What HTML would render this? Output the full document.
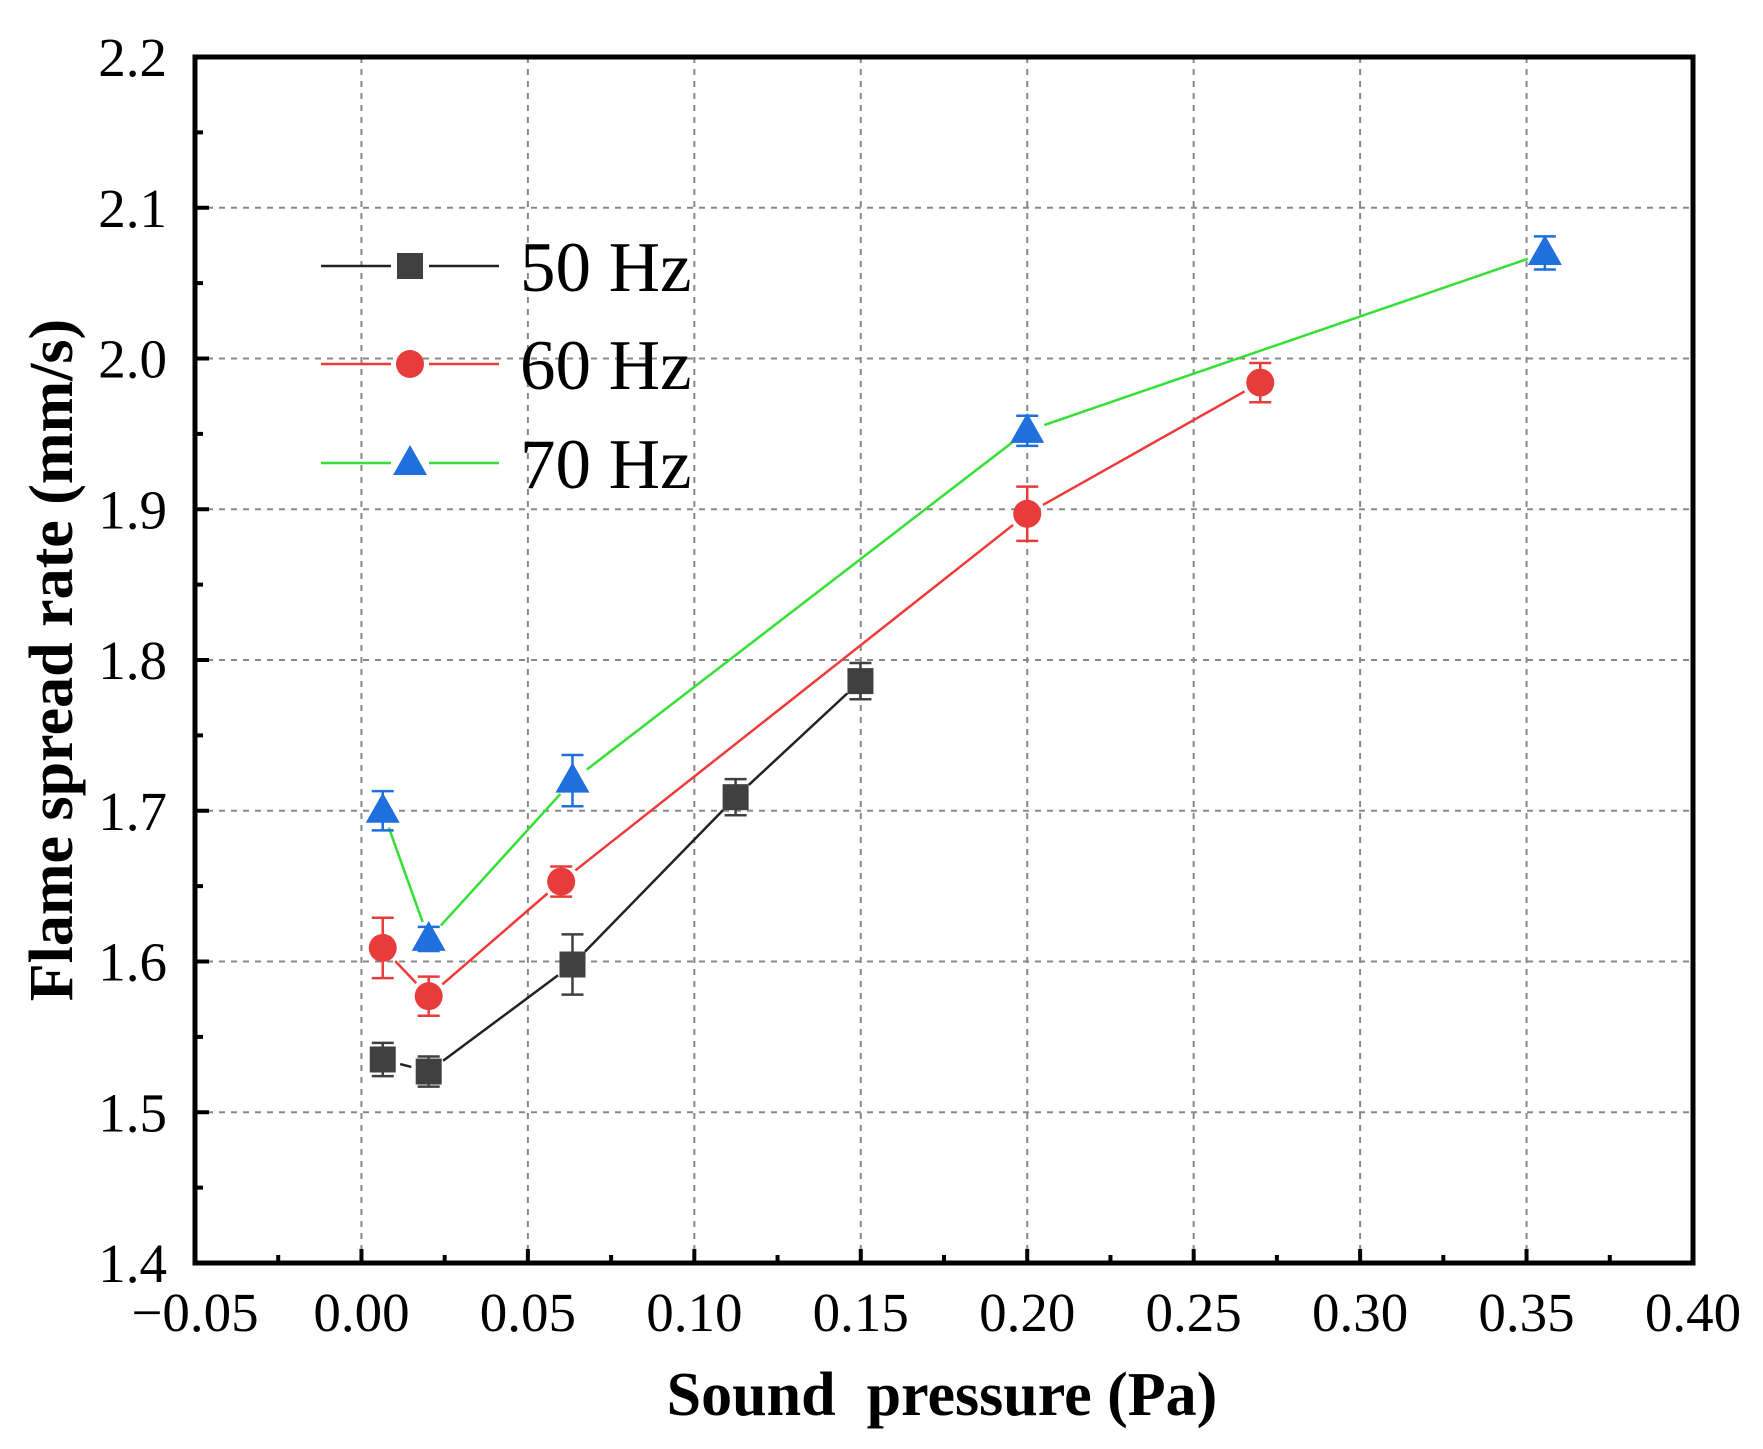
<!DOCTYPE html>
<html><head><meta charset="utf-8"><style>
html,body{margin:0;padding:0;background:#fff;}
svg{display:block;}
text{font-family:"Liberation Serif",serif;fill:#000;}
</style></head><body>
<svg id="chart" width="1763" height="1449" viewBox="0 0 1763 1449" xmlns="http://www.w3.org/2000/svg">
<g id="grid"></g>
<g id="series"></g>
<g id="axes"></g>
<text x="942" y="1415" font-size="62" font-weight="bold" text-anchor="middle" xml:space="preserve">Sound  pressure (Pa)</text>
<text transform="translate(72,660) rotate(-90)" font-size="62" font-weight="bold" text-anchor="middle">Flame spread rate (mm/s)</text>
<g id="legend"></g>
</svg>
<script>
const xTicks=[-0.05,0,0.05,0.10,0.15,0.20,0.25,0.30,0.35,0.40];
const xTickLabels=["\u22120.05","0.00","0.05","0.10","0.15","0.20","0.25","0.30","0.35","0.40"];
const yTicks=[1.4,1.5,1.6,1.7,1.8,1.9,2.0,2.1,2.2];
const yTickLabels=["1.4","1.5","1.6","1.7","1.8","1.9","2.0","2.1","2.2"];
const x50=[0.0064,0.0202,0.0634,0.1124,0.1499];
const y50=[1.535,1.527,1.598,1.709,1.786];
const e50=[0.011,0.010,0.020,0.012,0.012];
const x60=[0.0064,0.0202,0.0600,0.2000,0.2700];
const y60=[1.609,1.577,1.653,1.897,1.984];
const e60=[0.020,0.013,0.010,0.018,0.013];
const x70=[0.0064,0.0202,0.0634,0.2000,0.3555];
const y70=[1.700,1.615,1.720,1.952,2.070];
const e70=[0.013,0.008,0.017,0.010,0.011];

const NS="http://www.w3.org/2000/svg";
const L=195,R=1693,T=57,B=1263;
const X=v=>L+(v-(-0.05))/(0.45)*(R-L);
const Y=v=>B-(v-1.4)/(0.8)*(B-T);
function mk(tag,attrs,parent){const e=document.createElementNS(NS,tag);for(const k in attrs)e.setAttribute(k,attrs[k]);parent.appendChild(e);return e;}
const grid=document.getElementById('grid'),axes=document.getElementById('axes'),ser=document.getElementById('series'),leg=document.getElementById('legend');

xTicks.forEach((v,i)=>{
  const x=X(v);
  if(i>0&&i<xTicks.length-1){const g=mk('line',{x1:x,x2:x,y1:T,y2:B,stroke:'#888','stroke-width':2,'stroke-dasharray':'6,6'},grid);
  
  }
  const t=mk('line',{x1:x,x2:x,y1:B,y2:B-14,stroke:'#000','stroke-width':4},axes);
  
  
  if(i<xTicks.length-1){const xm=X(v+0.025);const m=mk('line',{x1:xm,x2:xm,y1:B,y2:B-8,stroke:'#000','stroke-width':4},axes);
  
  }
  const lb=mk('text',{x:x,y:1331,'font-size':55,'text-anchor':'middle'},axes);lb.textContent=xTickLabels[i];
  
  
});
yTicks.forEach((v,i)=>{
  const y=Y(v);
  if(i>0&&i<yTicks.length-1){const g=mk('line',{x1:L,x2:R,y1:y,y2:y,stroke:'#888','stroke-width':2,'stroke-dasharray':'6,6'},grid);
  
  }
  const t=mk('line',{x1:L,x2:L+14,y1:y,y2:y,stroke:'#000','stroke-width':4},axes);
  
  
  if(i<yTicks.length-1){const ym=Y(v+0.05);const m=mk('line',{x1:L,x2:L+8,y1:ym,y2:ym,stroke:'#000','stroke-width':4},axes);
  
  }
  const lb=mk('text',{x:167,y:y+19,'font-size':55,'text-anchor':'end'},axes);lb.textContent=yTickLabels[i];
  
  
});
const frame=mk('rect',{x:L,y:T,width:R-L,height:B-T,fill:'none',stroke:'#000','stroke-width':5},axes);



function marker(shape,cx,cy,color,parent){
  let e;
  if(shape==='square')e=mk('rect',{x:cx-13,y:cy-13,width:26,height:26,fill:color},parent);
  else if(shape==='circle')e=mk('circle',{cx:cx,cy:cy,r:14,fill:color},parent);
  else e=mk('polygon',{points:`${cx},${cy-18} ${cx+17},${cy+12} ${cx-17},${cy+12}`,fill:color},parent);
  return e;
}
const series=[
 {name:'50',xs:x50,ys:y50,es:e50,shape:'square',mc:'#404040',lc:'#222',ec:'#404040'},
 {name:'60',xs:x60,ys:y60,es:e60,shape:'circle',mc:'#e83b3b',lc:'#f03a3a',ec:'#e83b3b'},
 {name:'70',xs:x70,ys:y70,es:e70,shape:'triangle',mc:'#1f6fdc',lc:'#33e033',ec:'#1f6fdc'}
];
series.forEach(s=>{
  const g=mk('g',{},ser);
  
  
  for(let i=0;i<s.xs.length-1;i++){
    const x1=X(s.xs[i]),y1=Y(s.ys[i]),x2=X(s.xs[i+1]),y2=Y(s.ys[i+1]);
    const d=Math.hypot(x2-x1,y2-y1),g0=18;
    if(d<2*g0)continue;
    const ux=(x2-x1)/d,uy=(y2-y1)/d;
    const ln=mk('line',{x1:x1+ux*g0,y1:y1+uy*g0,x2:x2-ux*g0,y2:y2-uy*g0,stroke:s.lc,'stroke-width':2.5},g);
    
    
  }
  s.xs.forEach((xv,i)=>{
    const cx=X(xv),cy=Y(s.ys[i]),yt=Y(s.ys[i]+s.es[i]),yb=Y(s.ys[i]-s.es[i]);
    const eb=mk('path',{d:`M${cx},${yt}V${yb}M${cx-11},${yt}H${cx+11}M${cx-11},${yb}H${cx+11}`,stroke:s.ec,'stroke-width':2.5,fill:'none'},g);
    
    
    const m=marker(s.shape,cx,cy,s.mc,g);
    
    
  });
});
const legY=[266,364,463];
series.forEach((s,i)=>{
  const g=mk('g',{},leg);
  
  
  mk('line',{x1:321,x2:391,y1:legY[i],y2:legY[i],stroke:s.lc,'stroke-width':2.5},g);
  mk('line',{x1:429,x2:499,y1:legY[i],y2:legY[i],stroke:s.lc,'stroke-width':2.5},g);
  marker(s.shape,410,legY[i],s.mc,g);
  const t=mk('text',{x:520,y:legY[i]+25,'font-size':71},g);t.textContent=s.name+' Hz';
});
</script>
</body></html>
